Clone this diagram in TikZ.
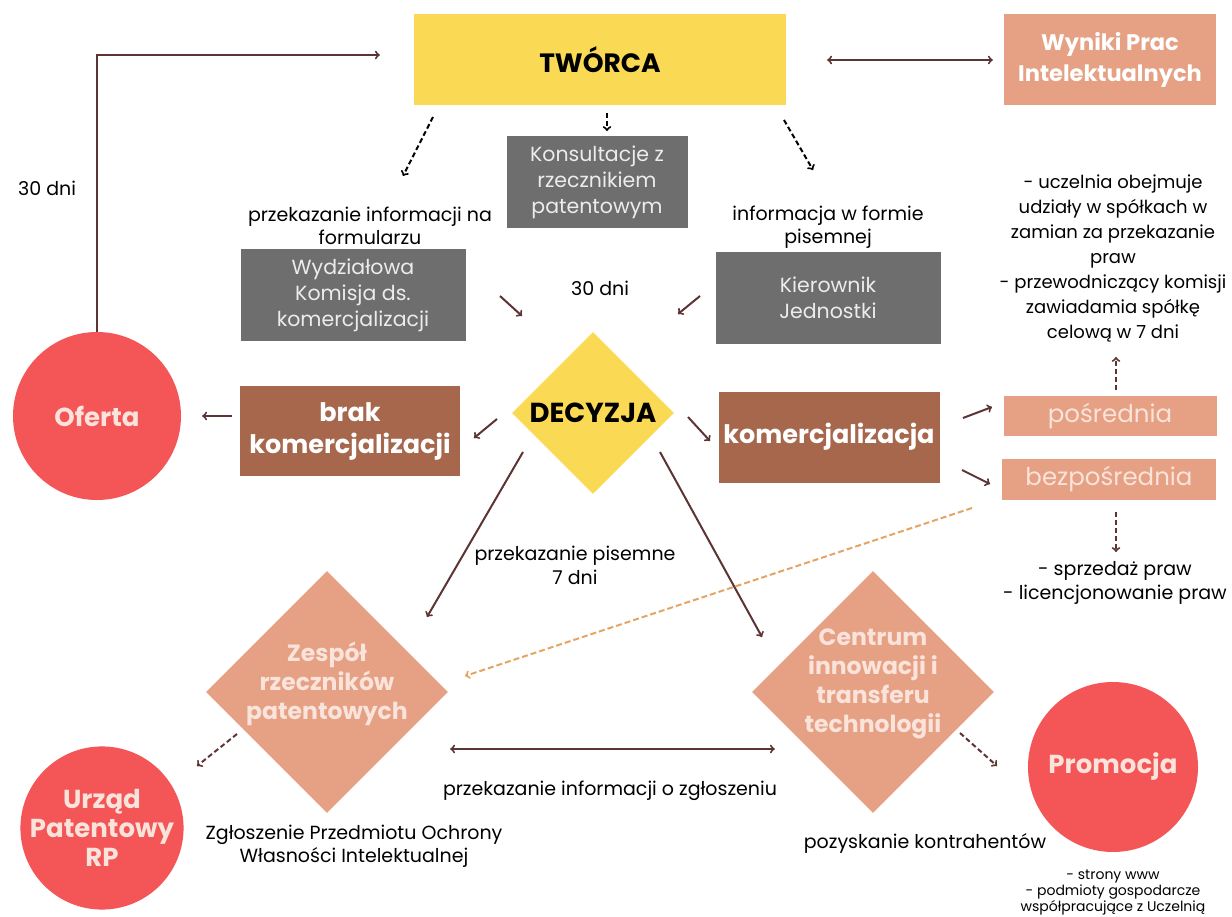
\documentclass[tikz,border=0pt]{standalone}
\usepackage{fontspec}
\setmainfont{Poppins}
\usetikzlibrary{shapes.geometric}

\definecolor{zolty}{HTML}{FADA55}
\definecolor{losos}{HTML}{E6A185}
\definecolor{braz}{HTML}{A6674C}
\definecolor{szary}{HTML}{6E6E6E}
\definecolor{czerwony}{HTML}{F45557}
\definecolor{strzalka}{HTML}{5C3434}
\definecolor{jasny}{HTML}{FAE3DA}
\definecolor{pomarancz}{HTML}{E4A564}

\begin{document}
\begin{tikzpicture}[x=1pt,y=-1pt,
  arr/.style={->,draw=strzalka,line width=2pt},
  dash arr/.style={->,draw=black,line width=2pt,dash pattern=on 5pt off 3pt},
  box node/.style={rectangle,inner sep=0pt,align=center},
  grey node/.style={box node,fill=szary,text=gray!15,minimum width=225,minimum height=92,font=\fontsize{20.5}{26}\selectfont},
  brown node/.style={box node,fill=braz,text=white,minimum width=221,minimum height=91,font=\fontsize{25.5}{32}\selectfont\bfseries},
  salmon node/.style={box node,fill=losos,text=jasny,minimum width=214,minimum height=41,font=\fontsize{24.5}{28}\selectfont},
  round node/.style={circle,fill=czerwony,text=jasny,inner sep=0pt,align=center,font=\fontsize{26}{29}\selectfont\bfseries},
  rhomb/.style={diamond,fill=losos,inner sep=0pt,minimum width=242,minimum height=242},
  note/.style={align=center,font=\fontsize{19}{23}\selectfont},
  bold note/.style={align=center,text=jasny,font=\fontsize{23.5}{29}\selectfont\bfseries}]

\useasboundingbox (0,0) rectangle (1232,917);

\coordinate (tw-a) at (433,117);
\coordinate (form-a) at (403,176);
\coordinate (tw-b) at (607,113);
\coordinate (kons-b) at (607,131);
\coordinate (tw-c) at (784,120);
\coordinate (pis-c) at (813,170);
\coordinate (wydz-out) at (500,296);
\coordinate (wydz-in) at (522,316);
\coordinate (kier-out) at (700,296);
\coordinate (kier-in) at (678,314);
\coordinate (dec-brak) at (497,419);
\coordinate (brak-in) at (474,438);
\coordinate (dec-kom) at (688,417);
\coordinate (kom-in) at (710,441);
\coordinate (kom-posr) at (963,418);
\coordinate (posr-in) at (992,407);
\coordinate (kom-bezp) at (962,470);
\coordinate (bezp-in) at (990,484);
\coordinate (posr-up) at (1116,390);
\coordinate (udz-in) at (1116,357);
\coordinate (bezp-down) at (1116,512);
\coordinate (sprz-in) at (1116,552);
\coordinate (bezp-zesp) at (972,508);
\coordinate (zesp-in) at (465,676);
\coordinate (dec-zesp) at (523,452);
\coordinate (zesp-top) at (427,617);
\coordinate (dec-cent) at (660,452);
\coordinate (cent-top) at (762,637);
\coordinate (zesp-urz) at (237,734);
\coordinate (urz-in) at (197,766);
\coordinate (cent-prom) at (960,733);
\coordinate (prom-in) at (997,766);

% top row
\node[box node,fill=zolty,minimum width=372,minimum height=91,font=\fontsize{26.5}{30}\selectfont\bfseries] (tworca) at (600,60) {TWÓRCA};
\node[box node,fill=losos,text=white,minimum width=212,minimum height=91,font=\fontsize{22.5}{31}\selectfont\bfseries] (wyniki) at (1110,60) {Wyniki Prac\\Intelektualnych};
\draw[arr,<->,shorten <=41,shorten >=11] (tworca) -- (wyniki);

% second row
\node[grey node,minimum width=181] (konsult) at (597,182) {Konsultacje z\\rzecznikiem\\patentowym};
\node[grey node] (wydzial) at (353,295) {Wydziałowa\\Komisja ds.\\komercjalizacji};
\node[grey node] (kierownik) at (828,298) {Kierownik\\Jednostki};
\node[note] (formularz) at (370,226) {przekazanie informacji na\\formularzu};
\node[note] (pisemnej) at (828,227) {informacja w formie\\pisemnej};
\node[note] (dni top) at (600,288) {30 dni};
\node[note] (dni left) at (47,188) {30 dni};

\draw[dash arr] (tw-a) -- (form-a);
\draw[dash arr] (tw-b) -- (kons-b);
\draw[dash arr] (tw-c) -- (pis-c);
\draw[arr] (wydz-out) -- (wydz-in);
\draw[arr] (kier-out) -- (kier-in);

% decision
\node[diamond,fill=zolty,inner sep=0pt,minimum width=162,minimum height=162,font=\fontsize{27.5}{30}\selectfont\bfseries] (decyzja) at (593,413) {DECYZJA};
\node[brown node,minimum width=220,minimum height=90] (brak) at (350,431) {brak\\komercjalizacji};
\node[round node,minimum size=168] (oferta) at (97,416) {Oferta};
\node[brown node] (komerc) at (829,437) {komercjalizacja};
\node[salmon node,minimum width=213,minimum height=40] (posr) at (1110,416) {pośrednia};
\node[salmon node] (bezp) at (1109,479) {bezpośrednia};

\node[note,font=\fontsize{18}{25}\selectfont] (udzialy) at (1113,259) {- uczelnia obejmuje\\udziały w spółkach w\\zamian za przekazanie\\praw\\- przewodniczący komisji\\zawiadamia spółkę\\celową w 7 dni};
\node[note,font=\fontsize{19}{24}\selectfont] (sprzedaz) at (1115,583) {- sprzedaż praw\\- licencjonowanie praw};
\node[note,font=\fontsize{19}{24}\selectfont] (pisemne) at (575,565) {przekazanie pisemne\\7 dni};

\draw[arr] (oferta.north) |- ([yshift=5]tworca.west) [shorten >=34];
\draw[arr,shorten <=8,shorten >=21] (brak.west |- oferta.east) -- (oferta.east);
\draw[arr] (dec-brak) -- (brak-in);
\draw[arr] (dec-kom) -- (kom-in);
\draw[arr] (kom-posr) -- (posr-in);
\draw[arr] (kom-bezp) -- (bezp-in);
\draw[arr,dash pattern=on 5pt off 3pt] (posr-up) -- (udz-in);
\draw[arr,dash pattern=on 5pt off 3pt] (bezp-down) -- (sprz-in);

% bottom
\node[rhomb] (zespol) at (327,692) {};
\node[bold note] (zespol txt) at (327,684) {Zespół\\rzeczników\\patentowych};
\node[rhomb] (centrum) at (873,692) {};
\node[bold note] (centrum txt) at (873,684) {Centrum\\innowacji i\\transferu\\technologii};
\node[round node,minimum size=162] (urzad) at (102,828) {Urząd\\Patentowy\\RP};
\node[round node,minimum size=170] (promocja) at (1113,767) {Promocja};
\node[note] (zgloszenie) at (354,846) {Zgłoszenie Przedmiotu Ochrony\\Własności Intelektualnej};
\node[note] (informacja) at (610,791) {przekazanie informacji o zgłoszeniu};
\node[note] (kontrahenci) at (925,843) {pozyskanie kontrahentów};
\node[note,font=\fontsize{14}{16}\selectfont] (strony) at (1113,893) {- strony www\\- podmioty gospodarcze\\współpracujące z Uczelnią};

\draw[arr,pomarancz,dash pattern=on 6pt off 3pt] (bezp-zesp) -- (zesp-in);
\draw[arr] (dec-zesp) -- (zesp-top);
\draw[arr] (dec-cent) -- (cent-top);
\draw[arr,<->] ([yshift=-57,xshift=2]zespol.east) -- ([yshift=-57,xshift=23]centrum.west);
\draw[arr,dash pattern=on 5pt off 3pt] (zesp-urz) -- (urz-in);
\draw[arr,dash pattern=on 5pt off 3pt] (cent-prom) -- (prom-in);

\end{tikzpicture}
\end{document}
